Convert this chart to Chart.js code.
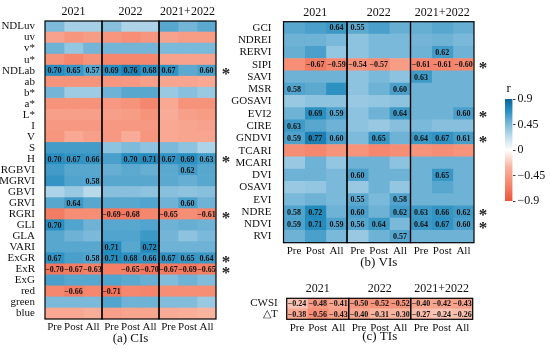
<!DOCTYPE html>
<html>
<head>
<meta charset="utf-8">
<script src="https://cdn.jsdelivr.net/npm/chart.js@4.4.1/dist/chart.umd.min.js"></script>
<style>
  body { margin: 0; background: #fff; }
  #wrap { position: relative; width: 550px; height: 352px; overflow: hidden; }
  canvas { position: absolute; }
</style>
</head>
<body>
<div id="wrap">
  <canvas id="chartA" width="250" height="352" style="left:0;top:0;width:250px;height:352px"></canvas>
  <canvas id="chartB" width="270" height="276" style="left:230px;top:0;width:270px;height:276px"></canvas>
  <canvas id="chartC" width="262" height="78" style="left:238px;top:274px;width:262px;height:78px"></canvas>
  <canvas id="chartBar" width="80" height="140" style="left:470px;top:80px;width:80px;height:140px"></canvas>
</div>
<script>
// column and group labels
const cols = ['Pre', 'Post', 'All'];
const years = ['2021', '2022', '2021+2022'];

// (a) colour indices
const rowsA = ['NDLuv', 'uv', 'v*', 'u*', 'NDLab', 'ab', 'b*', 'a*', 'L*', 'I', 'V', 'S', 'H',
  'RGBVI', 'MGRVI', 'GBVI', 'GRVI', 'RGRI', 'GLI', 'GLA', 'VARI', 'ExGR', 'ExR', 'ExG',
  'red', 'green', 'blue'];
const valsA = [
  [0.45, 0.32, 0.32, 0.42, 0.30, 0.30, 0.56, 0.48, 0.55],
  [-0.42, -0.50, -0.46, -0.50, -0.55, -0.50, -0.42, -0.46, -0.46],
  [0.50, 0.38, 0.48, 0.48, 0.48, 0.48, 0.46, 0.46, 0.46],
  [-0.52, -0.60, -0.52, -0.60, -0.60, -0.60, -0.42, -0.42, -0.42],
  [0.70, 0.65, 0.57, 0.69, 0.76, 0.68, 0.67, 0.55, 0.60],
  [-0.52, -0.52, -0.52, -0.50, -0.48, -0.44, -0.40, -0.40, -0.38],
  [0.48, 0.35, 0.35, 0.50, 0.56, 0.56, 0.36, 0.42, 0.36],
  [-0.52, -0.52, -0.52, -0.48, -0.52, -0.60, -0.38, -0.52, -0.52],
  [-0.44, -0.44, -0.44, -0.44, -0.46, -0.52, -0.36, -0.44, -0.46],
  [-0.48, -0.48, -0.48, -0.48, -0.48, -0.48, -0.38, -0.40, -0.42],
  [-0.50, -0.38, -0.44, -0.48, -0.36, -0.50, -0.38, -0.40, -0.40],
  [0.62, 0.62, 0.62, 0.40, 0.45, 0.40, 0.46, 0.40, 0.30],
  [0.70, 0.67, 0.66, 0.60, 0.70, 0.71, 0.67, 0.69, 0.63],
  [0.62, 0.56, 0.56, 0.52, 0.55, 0.52, 0.55, 0.62, 0.56],
  [0.66, 0.58, 0.58, 0.56, 0.56, 0.56, 0.55, 0.52, 0.56],
  [0.30, 0.36, 0.26, 0.42, 0.42, 0.40, 0.42, 0.40, 0.42],
  [0.56, 0.64, 0.56, 0.56, 0.56, 0.58, 0.50, 0.60, 0.50],
  [-0.66, -0.56, -0.56, -0.69, -0.68, -0.60, -0.65, -0.56, -0.61],
  [0.70, 0.58, 0.50, 0.56, 0.56, 0.58, 0.50, 0.52, 0.50],
  [0.56, 0.50, 0.46, 0.58, 0.58, 0.64, 0.48, 0.40, 0.46],
  [0.56, 0.56, 0.56, 0.71, 0.56, 0.72, 0.50, 0.50, 0.50],
  [0.67, 0.60, 0.58, 0.71, 0.68, 0.66, 0.67, 0.65, 0.64],
  [-0.70, -0.67, -0.63, -0.65, -0.65, -0.70, -0.67, -0.69, -0.65],
  [0.60, 0.56, 0.56, 0.58, 0.55, 0.52, 0.44, 0.50, 0.44],
  [-0.60, -0.66, -0.60, -0.71, -0.60, -0.62, -0.56, -0.56, -0.56],
  [0.46, 0.46, 0.46, 0.58, 0.50, 0.50, 0.44, 0.44, 0.36],
  [-0.38, -0.38, -0.34, -0.44, -0.40, -0.40, -0.36, -0.34, -0.30]
];
// which cells carry a printed value (1 = printed)
const shownA = ['000000000', '000000000', '000000000', '000000000', '111111101', '000000000',
  '000000000', '000000000', '000000000', '000000000', '000000000', '000000000', '111011111',
  '000000010', '001000000', '000000000', '010000010', '000110101', '100000000', '000000000',
  '000101000', '101111111', '111011111', '000000000', '010100000', '000000000', '000000000'];
const starsA = ['NDLab', 'H', 'RGRI', 'ExGR', 'ExR'];

// (b) vegetation indices
const rowsB = ['GCI', 'NDREI', 'RERVI', 'SIPI', 'SAVI', 'MSR', 'GOSAVI', 'EVI2', 'CIRE', 'GNDVI',
  'TCARI', 'MCARI', 'DVI', 'OSAVI', 'EVI', 'NDRE', 'NDVI', 'RVI'];
const valsB = [
  [0.56, 0.60, 0.64, 0.55, 0.60, 0.52, 0.52, 0.56, 0.52],
  [0.50, 0.50, 0.46, 0.40, 0.46, 0.46, 0.48, 0.50, 0.46],
  [0.52, 0.60, 0.38, 0.40, 0.46, 0.46, 0.50, 0.62, 0.50],
  [-0.55, -0.67, -0.59, -0.54, -0.57, -0.46, -0.61, -0.61, -0.60],
  [0.50, 0.50, 0.50, 0.40, 0.46, 0.40, 0.63, 0.50, 0.50],
  [0.58, 0.55, 0.68, 0.40, 0.50, 0.60, 0.50, 0.50, 0.50],
  [0.36, 0.40, 0.40, 0.36, 0.38, 0.40, 0.50, 0.50, 0.50],
  [0.50, 0.69, 0.59, 0.40, 0.50, 0.64, 0.50, 0.50, 0.60],
  [0.63, 0.56, 0.50, 0.40, 0.36, 0.42, 0.46, 0.42, 0.42],
  [0.59, 0.77, 0.60, 0.45, 0.65, 0.50, 0.64, 0.67, 0.61],
  [-0.56, -0.60, -0.52, -0.52, -0.60, -0.56, -0.52, -0.56, -0.52],
  [0.36, 0.50, 0.38, 0.50, 0.50, 0.40, 0.50, 0.50, 0.50],
  [0.50, 0.50, 0.46, 0.60, 0.50, 0.50, 0.50, 0.65, 0.50],
  [0.36, 0.38, 0.46, 0.36, 0.50, 0.38, 0.50, 0.56, 0.50],
  [0.46, 0.50, 0.46, 0.55, 0.46, 0.58, 0.50, 0.50, 0.50],
  [0.58, 0.72, 0.50, 0.60, 0.50, 0.62, 0.63, 0.66, 0.62],
  [0.59, 0.71, 0.59, 0.56, 0.64, 0.46, 0.64, 0.67, 0.60],
  [0.50, 0.60, 0.46, 0.36, 0.50, 0.57, 0.50, 0.50, 0.50]
];
const shownB = ['001100000', '000000000', '000000010', '011110111', '000000100', '100001000',
  '000000000', '011001001', '100000000', '111010111', '000000000', '000000000', '000100010',
  '000000000', '000101000', '110101111', '111110111', '000001000'];
const starsB = ['SIPI', 'EVI2', 'GNDVI', 'NDRE', 'NDVI'];

// (c) thermal indices
const rowsC = ['CWSI', '\u25B3T'];
const valsC = [
  [-0.24, -0.48, -0.41, -0.50, -0.52, -0.52, -0.40, -0.42, -0.43],
  [-0.38, -0.56, -0.43, -0.40, -0.31, -0.30, -0.27, -0.24, -0.26]
];
const shownC = ['111111111', '111111111'];

// colour bar ticks
const barTicks = [-0.9, -0.45, 0, 0.45, 0.9];

const serif = '"Liberation Serif", "Times New Roman", serif';
const colorStops = [
  [-0.9, [236, 84, 58]],
  [-0.6, [245, 135, 110]],
  [-0.3, [249, 180, 160]],
  [0, [255, 255, 255]],
  [0.3, [172, 211, 231]],
  [0.5, [110, 178, 213]],
  [0.7, [38, 142, 192]],
  [0.9, [12, 100, 152]]
];

function heatColor(v) {
  let i = 0;
  while (i < colorStops.length - 2 && v > colorStops[i + 1][0]) i++;
  const [v0, c0] = colorStops[i];
  const [v1, c1] = colorStops[i + 1];
  const t = Math.max(0, Math.min(1, (v - v0) / (v1 - v0)));
  const c = c0.map((a, k) => Math.round(a + (c1[k] - a) * t));
  return `rgb(${c[0]},${c[1]},${c[2]})`;
}

function fmt(v) {
  return (v < 0 ? '\u2212' : '') + Math.abs(v).toFixed(2);
}

function overlay(vals, shown, stars, rows, starGap) {
  return {
    id: 'overlay',
    afterDatasetsDraw(chart) {
      const { ctx, chartArea: a, scales: { x, y } } = chart;
      ctx.save();
      ctx.font = 'bold 8px ' + serif;
      ctx.fillStyle = '#111';
      ctx.textAlign = 'center';
      ctx.textBaseline = 'middle';
      vals.forEach((row, r) => row.forEach((v, c) => {
        if (shown[r][c] !== '1') return;
        ctx.fillText(fmt(v), x.getPixelForValue(c + 0.5), y.getPixelForValue(r) + 0.5);
      }));
      // group frames
      ctx.strokeStyle = '#000';
      ctx.lineWidth = 1.2;
      [0, 3, 6].forEach(c => {
        const x0 = x.getPixelForValue(c);
        const x1 = x.getPixelForValue(c + 3);
        ctx.strokeRect(x0, a.top, x1 - x0, a.bottom - a.top);
      });
      // significance marks
      ctx.font = 'bold 17px ' + serif;
      ctx.fillStyle = '#222';
      stars.forEach(name => {
        const r = rows.indexOf(name);
        ctx.fillText('*', a.right + starGap, y.getPixelForValue(r) + 4);
      });
      ctx.restore();
    }
  };
}

function heatmap(id, rows, vals, shown, stars, caption, box) {
  const datasets = [0, 1, 2, 3, 4, 5, 6, 7, 8].map(c => ({
    data: rows.map(() => [c, c + 1]),
    backgroundColor: vals.map(row => heatColor(row[c])),
    grouped: false,
    barPercentage: 1,
    categoryPercentage: 1,
    borderWidth: 0
  }));
  const tickFont = { family: serif, size: 11 };
  return new Chart(document.getElementById(id), {
    type: 'bar',
    data: { labels: rows, datasets },
    options: {
      indexAxis: 'y',
      responsive: false,
      animation: false,
      layout: { padding: box.pad },
      plugins: { legend: { display: false }, tooltip: { enabled: false } },
      scales: {
        y: {
          type: 'category',
          grid: { display: false },
          border: { display: false },
          ticks: { font: tickFont, color: '#111', padding: box.yPad, autoSkip: false },
          afterFit: s => { s.width = box.yw; }
        },
        x: {
          type: 'linear', min: 0, max: 9, position: 'bottom',
          grid: { display: false, drawTicks: false },
          border: { display: false },
          afterBuildTicks: s => { s.ticks = [0, 1, 2, 3, 4, 5, 6, 7, 8].map(i => ({ value: i + 0.5 })); },
          ticks: { callback: (v, i) => cols[i % 3], font: tickFont, color: '#111', padding: 2, maxRotation: 0, autoSkip: false },
          title: { display: true, text: caption, font: { family: serif, size: 13 }, color: '#111', padding: { top: 0, bottom: 2 } },
          afterFit: s => { s.height = box.bh; }
        },
        x2: {
          type: 'linear', min: 0, max: 9, position: 'top', display: true,
          grid: { display: false, drawTicks: false },
          border: { display: false },
          afterBuildTicks: s => { s.ticks = [1.5, 4.5, 7.5].map(v => ({ value: v })); },
          ticks: { callback: (v, i) => years[i], font: { family: serif, size: 12 }, color: '#111', padding: 2, maxRotation: 0, autoSkip: false },
          afterFit: s => { s.height = box.th; }
        }
      }
    },
    plugins: [overlay(vals, shown, stars, rows, box.starGap)]
  });
}

function drawAll() {
  heatmap('chartA', rowsA, valsA, shownA, starsA, '(a) CIs',
    { pad: { left: 0, right: 34, top: 0, bottom: 4 }, yw: 45, th: 21, bh: 29, yPad: 2, starGap: 10 });
  heatmap('chartB', rowsB, valsB, shownB, starsB, '(b) VIs',
    { pad: { left: 0, right: 26, top: 0, bottom: 3.5 }, yw: 53.5, th: 21.7, bh: 29.8, yPad: 4, starGap: 9 });
  heatmap('chartC', rowsC, valsC, shownC, [], '(c) TIs',
    { pad: { left: 0, right: 27.3, top: 0, bottom: 5.2 }, yw: 48.7, th: 24.3, bh: 27.5, yPad: 1, starGap: 9 });

  // colour bar
  new Chart(document.getElementById('chartBar'), {
    type: 'bar',
    data: {
      labels: ['r'],
      datasets: [{
        data: [[barTicks[0], barTicks[barTicks.length - 1]]],
        backgroundColor: ctx => {
          const chart = ctx.chart;
          const y = chart.scales.y;
          if (!chart.chartArea || !y) return '#ccc';
          const g = chart.ctx.createLinearGradient(0, y.getPixelForValue(-0.9), 0, y.getPixelForValue(0.9));
          colorStops.forEach(([v]) => g.addColorStop((v + 0.9) / 1.8, heatColor(v)));
          return g;
        },
        barPercentage: 1,
        categoryPercentage: 1,
        borderWidth: 0
      }]
    },
    options: {
      responsive: false,
      animation: false,
      layout: { padding: { left: 35, right: 0, top: 19, bottom: 19 } },
      plugins: { legend: { display: false }, tooltip: { enabled: false } },
      scales: {
        x: { display: false },
        y: {
          position: 'right', min: -0.9, max: 0.9,
          afterBuildTicks: s => { s.ticks = barTicks.map(v => ({ value: v })); },
          ticks: {
            callback: v => (v < 0 ? '\u2212' : '') + String(Math.abs(v)),
            font: { family: serif, size: 12 }, color: '#111', padding: 2
          },
          grid: { drawOnChartArea: false, tickLength: 3, color: '#444' },
          border: { display: false },
          afterFit: s => { s.width = 37.5; }
        }
      }
    },
    plugins: [{
      id: 'barTitle',
      afterDraw(chart) {
        const { ctx, chartArea: a } = chart;
        ctx.save();
        ctx.font = '13px ' + serif;
        ctx.fillStyle = '#111';
        ctx.textAlign = 'center';
        ctx.textBaseline = 'bottom';
        ctx.fillText('r', (a.left + a.right) / 2, a.top - 4);
        ctx.restore();
      }
    }]
  });
}

Promise.all([
  document.fonts.load('11px "Liberation Serif"'),
  document.fonts.load('bold 8px "Liberation Serif"')
]).then(drawAll, drawAll);
</script>
</body>
</html>
